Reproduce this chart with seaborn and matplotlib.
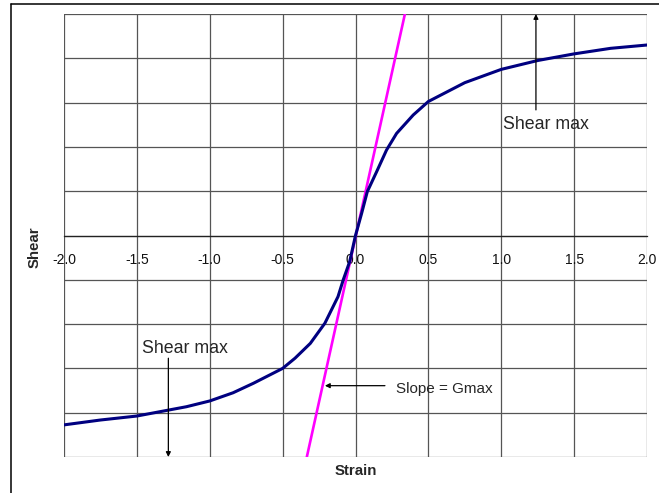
import matplotlib
matplotlib.use("Agg")
import matplotlib.pyplot as plt
from matplotlib.lines import Line2D
import seaborn as sns
import pandas as pd
import numpy as np

# courbe contrainte / deformation
strain = [-2.0, -1.75, -1.5, -1.16, -1.0, -0.84, -0.7, -0.5, -0.415, -0.31,
          -0.21, -0.12, -0.084, -0.04, 0.0, 0.042, 0.081, 0.145, 0.213, 0.282,
          0.396, 0.5, 0.75, 1.0, 1.25, 1.5, 1.75, 2.0]
shear = [-0.855, -0.833, -0.815, -0.773, -0.747, -0.71, -0.667, -0.60, -0.554, -0.487,
         -0.396, -0.276, -0.20, -0.118, 0.0, 0.10, 0.198, 0.288, 0.386, 0.461,
         0.544, 0.605, 0.69, 0.75, 0.79, 0.82, 0.845, 0.86]

# tangente a l'origine (Gmax)
gmax_strain = [-0.334, 0.339]
gmax_shear = [-1.0, 1.0]

x_ticks = [-2.0, -1.5, -1.0, -0.5, 0.0, 0.5, 1.0, 1.5, 2.0]
x_labels = ["-2.0", "-1.5", "-1.0", "-0.5", "0.0", "0.5", "1.0", "1.5", "2.0"]

sns.set_style("white")
plt.rcParams["font.family"] = ["Liberation Sans", "DejaVu Sans"]

fig = plt.figure(figsize=(6.59, 4.93), dpi=100)
ax = fig.add_axes([64 / 659, 1 - 457 / 493, 583 / 659, 443 / 493])

curve = pd.DataFrame({"Strain": strain, "Shear": shear})
tangent = pd.DataFrame({"Strain": gmax_strain, "Shear": gmax_shear})
sns.lineplot(data=tangent, x="Strain", y="Shear", color="#ff00ff", lw=1.9, ax=ax, zorder=4)
sns.lineplot(data=curve, x="Strain", y="Shear", color="#000080", lw=2.2, ax=ax, zorder=5)

ax.set_xlim(-2, 2)
ax.set_ylim(-1, 1)
ax.set_xticks(x_ticks)
ax.set_xticklabels(x_labels, fontsize=10.8)
ax.set_yticks(np.linspace(-1, 1, 11))
ax.set_yticklabels([])
ax.grid(True, color="#555555", lw=0.9)
ax.set_axisbelow(True)

for s in ["top", "right", "left"]:
    ax.spines[s].set_visible(False)
ax.spines["bottom"].set_position(("data", 0))
ax.spines["bottom"].set_color("#222222")
ax.spines["bottom"].set_linewidth(0.9)
ax.tick_params(axis="x", direction="inout", length=6, width=0.9, pad=9.5, colors="#111111")
ax.tick_params(axis="y", length=0)

ax.set_xlabel("Strain", fontsize=10.8, fontweight="bold")
ax.set_ylabel("Shear", fontsize=10.8, fontweight="bold")
ax.xaxis.set_label_coords(0.501, -0.031)
ax.xaxis.label.set_va("center")
ax.yaxis.set_label_coords(-0.05, 0.474)
ax.yaxis.label.set_va("center")

arrow = dict(arrowstyle="-|>", color="black", lw=0.9, mutation_scale=7, shrinkA=0, shrinkB=0)
ax.annotate("", xy=(1.238, 1.0), xytext=(1.238, 0.567), arrowprops=arrow, zorder=6)
ax.text(1.012, 0.499, "Shear max", fontsize=12.8, va="center", ha="left")
ax.annotate("", xy=(-1.284, -1.0), xytext=(-1.284, -0.554), arrowprops=arrow, zorder=6)
ax.text(-1.467, -0.512, "Shear max", fontsize=12.8, va="center", ha="left")
ax.annotate("", xy=(-0.21, -0.678), xytext=(0.202, -0.678), arrowprops=arrow, zorder=6)
ax.text(0.278, -0.693, "Slope = Gmax", fontsize=11, va="center", ha="left")

# cadre de la figure (coupe a droite et en bas)
fig.add_artist(Line2D([11 / 659, 11 / 659], [0, 1 - 4 / 493], color="black", lw=1.1))
fig.add_artist(Line2D([11 / 659, 1], [1 - 4 / 493, 1 - 4 / 493], color="black", lw=1.1))

fig.savefig("out.png", dpi=100)
